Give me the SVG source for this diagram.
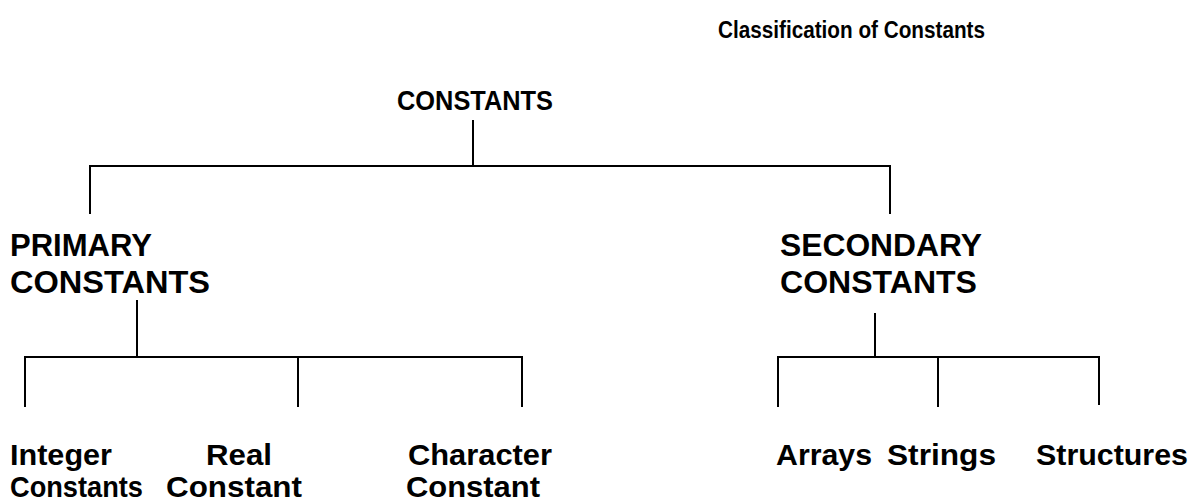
<svg xmlns="http://www.w3.org/2000/svg" width="1202" height="504" viewBox="0 0 1202 504">
<style>
text{font-family:"Liberation Sans",Arial,sans-serif;font-weight:bold;fill:#000}
.t{font-size:23px}
.r{font-size:27px}
.h{font-size:31px}
.l{font-size:30px}
.c{stroke:#000;stroke-width:2;fill:none}
</style>
<rect width="1202" height="504" fill="#fff"/>
<text class="t" x="718" y="38" textLength="267" lengthAdjust="spacingAndGlyphs">Classification of Constants</text>
<g id="root"><text class="r" x="397" y="110" textLength="156" lengthAdjust="spacingAndGlyphs">CONSTANTS</text></g>
<g id="primary"><text class="h" x="10" y="256" textLength="142" lengthAdjust="spacingAndGlyphs">PRIMARY</text><text class="h" x="10" y="293" textLength="200" lengthAdjust="spacingAndGlyphs">CONSTANTS</text></g>
<g id="secondary"><text class="h" x="780" y="256" textLength="202" lengthAdjust="spacingAndGlyphs">SECONDARY</text><text class="h" x="780" y="293" textLength="197" lengthAdjust="spacingAndGlyphs">CONSTANTS</text></g>
<g id="integer"><text class="l" x="10" y="465" textLength="102" lengthAdjust="spacingAndGlyphs">Integer</text><text class="l" x="10" y="497" textLength="133" lengthAdjust="spacingAndGlyphs">Constants</text></g>
<g id="real"><text class="l" x="206" y="465" textLength="66" lengthAdjust="spacingAndGlyphs">Real</text><text class="l" x="166" y="497" textLength="136" lengthAdjust="spacingAndGlyphs">Constant</text></g>
<g id="character"><text class="l" x="408" y="465" textLength="144" lengthAdjust="spacingAndGlyphs">Character</text><text class="l" x="406" y="497" textLength="134" lengthAdjust="spacingAndGlyphs">Constant</text></g>
<g id="arrays"><text class="l" x="776" y="465" textLength="96" lengthAdjust="spacingAndGlyphs">Arrays</text></g>
<g id="strings"><text class="l" x="887" y="465" textLength="109" lengthAdjust="spacingAndGlyphs">Strings</text></g>
<g id="structures"><text class="l" x="1036" y="465" textLength="152" lengthAdjust="spacingAndGlyphs">Structures</text></g>
<g id="connectors" class="c">
<path d="M473 120V166M90 214V166H890V214"/>
<path d="M137 300V357M25 407V357H522V407M298 357V407"/>
<path d="M875 313V357M778 407V357H1099V405M938 357V407"/>
</g>
</svg>
